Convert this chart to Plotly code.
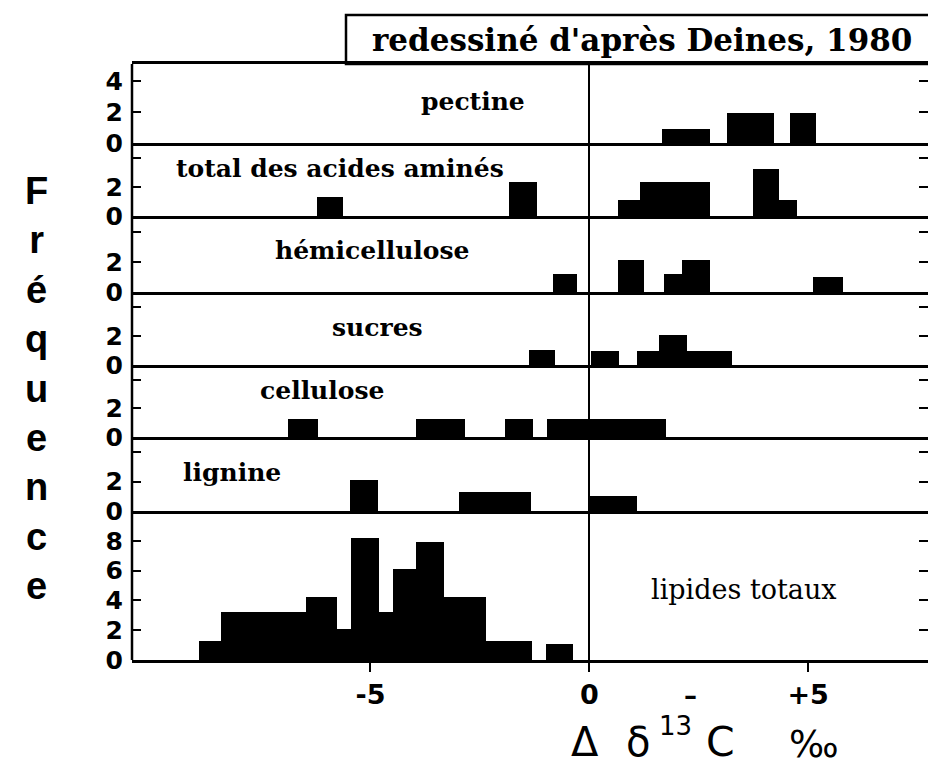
import plotly.graph_objects as go

# Histogrammes de Δδ13C par fraction biochimique (bords gauche/droit des classes, effectifs)
pectine_left = [1.66, 3.15, 4.58]
pectine_right = [2.75, 4.22, 5.18]
pectine_freq = [0.92, 1.95, 1.95]

aa_left = [-6.22, -1.83, 0.66, 1.16, 3.74, 4.34]
aa_right = [-5.62, -1.20, 1.16, 2.75, 4.34, 4.75]
aa_freq = [1.3, 2.35, 1.1, 2.35, 3.25, 1.1]

hemi_left = [-0.83, 0.65, 1.70, 2.12, 5.11]
hemi_right = [-0.27, 1.25, 2.12, 2.75, 5.80]
hemi_freq = [1.2, 2.1, 1.2, 2.1, 1.0]

sucres_left = [-1.38, 0.05, 1.10, 1.60, 2.24]
sucres_right = [-0.78, 0.68, 1.60, 2.24, 3.26]
sucres_freq = [1.05, 1.0, 1.0, 2.05, 1.0]

cell_left = [-6.88, -3.95, -1.92, -0.96]
cell_right = [-6.20, -2.83, -1.29, 1.76]
cell_freq = [1.25, 1.25, 1.25, 1.25]

lig_left = [-5.46, -2.98, 0.02]
lig_right = [-4.82, -1.34, 1.08]
lig_freq = [2.15, 1.3, 1.0]

lip_left = [-8.92, -8.41, -6.47, -5.76, -5.44, -4.80, -4.48, -3.96, -3.33, -2.35, -0.98]
lip_right = [-8.41, -6.47, -5.76, -5.44, -4.80, -4.48, -3.96, -3.33, -2.35, -1.32, -0.38]
lip_freq = [1.3, 3.2, 4.2, 2.1, 8.2, 3.2, 6.1, 7.9, 4.2, 1.3, 1.1]

panel_labels = ["pectine", "total des acides aminés", "hémicellulose", "sucres",
                "cellulose", "lignine", "lipides totaux"]
x_ticks = [-5, 0, 5]
x_tick_text = ["-5", "0", "+5"]

W, H = 928, 768
L, R, T, B = 132, 928, 64, 660          # plot area in pixels
X_RANGE = [-10.45, 7.74]
# panel edges (top, bottom) in pixels
edges = [(64, 143), (143, 216), (216, 292), (292, 365), (365, 437), (437, 511), (511, 660)]
label_px = [(473, 101), (340, 168), (372, 251), (377, 327), (322, 390), (232, 472), (744, 589)]
label_size = [25, 25, 25, 25, 25, 25, 27]
label_bold = [True, True, True, True, True, True, False]


def px_x(px):
    return (px - L) / (R - L)


def px_y(py):
    return (B - py) / (B - T)


series = [
    (pectine_left, pectine_right, pectine_freq),
    (aa_left, aa_right, aa_freq),
    (hemi_left, hemi_right, hemi_freq),
    (sucres_left, sucres_right, sucres_freq),
    (cell_left, cell_right, cell_freq),
    (lig_left, lig_right, lig_freq),
    (lip_left, lip_right, lip_freq),
]

SANS = "DejaVu Sans"
SERIF = "DejaVu Serif"

fig = go.Figure()
layout = {}
n = len(series)
for i, (lft, rgt, frq) in enumerate(series):
    k = i + 1
    centers = [(a + b) / 2 for a, b in zip(lft, rgt)]
    widths = [b - a for a, b in zip(lft, rgt)]
    fig.add_trace(go.Bar(
        x=centers, y=frq, width=widths,
        marker=dict(color="black", line=dict(width=0)),
        xaxis=f"x{k}", yaxis=f"y{k}", showlegend=False, hoverinfo="skip",
    ))
    top, bot = edges[i]
    last = (i == n - 1)
    minor = None
    if last:
        ymax, tv, tt = 10.0, [0, 2, 4, 6, 8], ["0", "2", "4", "6", "8"]
    elif i == 0:
        ymax, tv, tt = 5.1, [0, 2, 4], ["0", "2", "4"]
    else:
        ymax, tv, tt = 5.05, [0, 2], ["0", "2"]
        minor = dict(tickvals=[4], ticks="inside", ticklen=9, tickwidth=2,
                     tickcolor="black", showgrid=False)
    xa = dict(
        domain=[0, 1], range=X_RANGE, anchor=f"y{k}",
        showline=True, linecolor="black", linewidth=2.5,
        mirror=(i == 0), showgrid=False,
        zeroline=True, zerolinecolor="black", zerolinewidth=2,
        fixedrange=True,
    )
    if last:
        xa.update(ticks="outside", ticklen=9, tickwidth=2, tickcolor="black",
                  tickvals=x_ticks, ticktext=x_tick_text,
                  tickfont=dict(family=SANS, size=27, color="black", weight="bold"))
    else:
        xa.update(showticklabels=False, ticks="")
    if i > 0:
        xa["matches"] = "x"
    ya = dict(
        domain=[px_y(bot), px_y(top)], range=[0, ymax], anchor=f"x{k}",
        showline=False, mirror="ticks",
        ticks="inside", ticklen=9, tickwidth=2, tickcolor="black",
        tickvals=tv, ticktext=tt, showgrid=False, zeroline=False,
        ticklabelstandoff=8,
        tickfont=dict(family=SANS, size=25, color="black", weight="bold"),
        fixedrange=True,
    )
    if minor:
        ya["minor"] = minor
    layout["xaxis" if k == 1 else f"xaxis{k}"] = xa
    layout["yaxis" if k == 1 else f"yaxis{k}"] = ya

annotations = []
for name, (lx, ly), sz, bold in zip(panel_labels, label_px, label_size, label_bold):
    annotations.append(dict(
        text=name, xref="paper", yref="paper", x=px_x(lx), y=px_y(ly),
        xanchor="center", yanchor="middle", showarrow=False,
        font=dict(family=SERIF, size=sz, color="black", weight="bold" if bold else "normal"),
    ))

# source box above the top panel
annotations.append(dict(
    text="redessiné d'après Deines, 1980", xref="paper", yref="paper",
    x=px_x(642), y=px_y(40), xanchor="center", yanchor="middle", showarrow=False,
    font=dict(family=SERIF, size=31, color="black", weight="bold"),
))

# vertical axis title, one letter per line
annotations.append(dict(
    text="<br>".join("Fréquence"), xref="paper", yref="paper",
    x=px_x(36), y=px_y(388), xanchor="center", yanchor="middle", showarrow=False,
    align="center",
    font=dict(family="Liberation Sans", size=38, color="black", weight="bold"),
))

# horizontal axis title, set piece by piece
title_parts = [("Δ", 585, 742, 40), ("δ", 638, 742, 40), ("13", 675, 726, 26),
               ("C", 720, 742, 41), ("‰", 814, 744, 37)]
for txt, tx, ty, sz in title_parts:
    annotations.append(dict(
        text=txt, xref="paper", yref="paper",
        x=px_x(tx), y=px_y(ty), xanchor="center", yanchor="middle", showarrow=False,
        font=dict(family=SANS, size=sz, color="black"),
    ))

annotations.append(dict(
    text="–", xref="paper", yref="paper",
    x=px_x(690), y=px_y(696), xanchor="center", yanchor="middle", showarrow=False,
    font=dict(family=SANS, size=26, color="black", weight="bold"),
))

shapes = [
    dict(type="rect", xref="paper", yref="paper",
         x0=px_x(346), x1=px_x(940), y0=px_y(64), y1=px_y(15),
         line=dict(color="black", width=2.5), fillcolor="rgba(0,0,0,0)", layer="above"),
    # left frame line spanning all panels
    dict(type="line", xref="paper", yref="paper", x0=0, x1=0, y0=0, y1=1,
         line=dict(color="black", width=2.5), layer="above"),
]

fig.update_layout(
    width=W, height=H,
    margin=dict(l=L, r=W - R, t=T, b=H - B),
    paper_bgcolor="white", plot_bgcolor="white",
    bargap=0, barmode="overlay",
    annotations=annotations, shapes=shapes,
    **layout,
)

fig.write_html("out.html", config={"displayModeBar": False})
